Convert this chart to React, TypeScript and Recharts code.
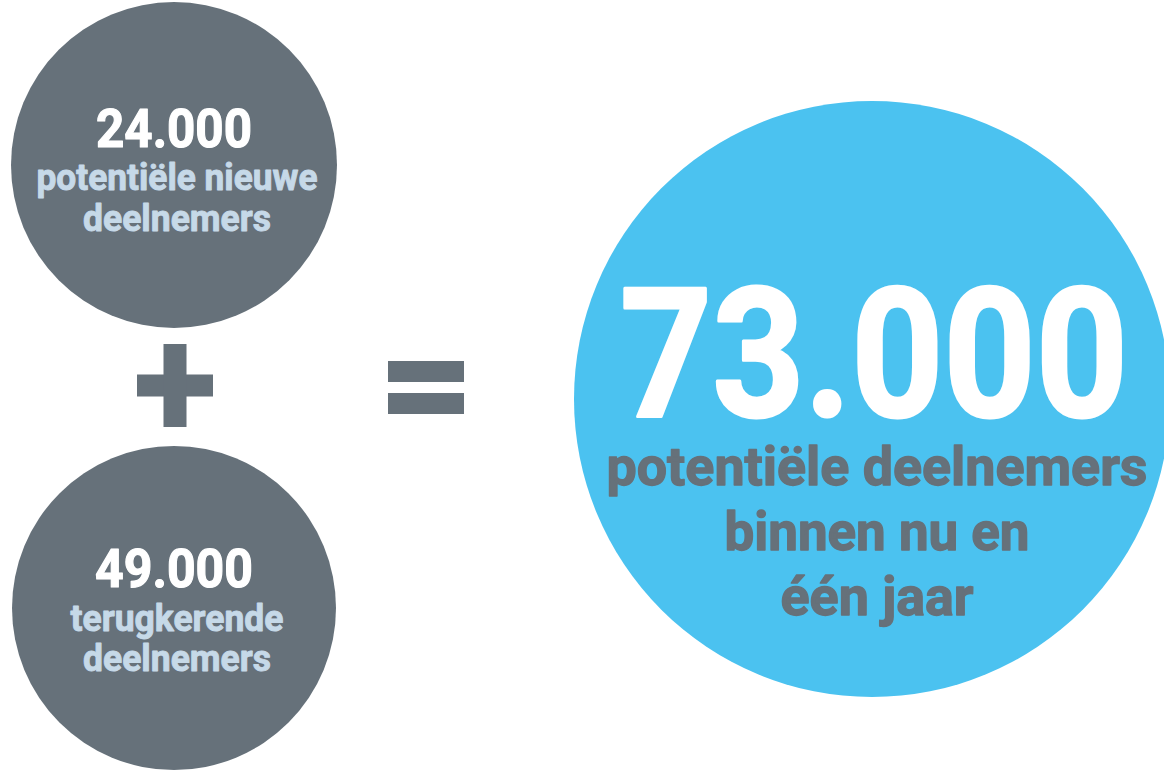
import React from 'react';
import { ScatterChart, Scatter, XAxis, YAxis } from 'recharts';

const W = 1164;
const H = 771;

// ---- data ----
const values = [24000, 49000, 73000];
const valueLabels = ['24.000', '49.000', '73.000'];
const captions = [
  ['potentiële nieuwe', 'deelnemers'],
  ['terugkerende', 'deelnemers'],
  ['potentiële deelnemers', 'binnen nu en', 'één jaar'],
];
const operators = ['+', '='];

// ---- layout / styles ----
const GRAY = '#66717a';
const LIGHT = '#c6d9e8';
const BLUE = '#4bc2f0';
const FONT = 'Roboto, "Open Sans", sans-serif';

const circleLayout = [
  { x: 174, y: 165, r: 163, fill: GRAY, valueColor: '#ffffff', capColor: LIGHT,
    valueSize: 54, valueDy: -18, valueWidth: 156, valueStroke: 1.2,
    capSize: 36, capDy: [25, 66], capWidths: [281, 188], capStroke: 0.9, dx: 0 },
  { x: 174, y: 608, r: 162, fill: GRAY, valueColor: '#ffffff', capColor: LIGHT,
    valueSize: 54, valueDy: -21, valueWidth: 158, valueStroke: 1.2,
    capSize: 36, capDy: [23, 63], capWidths: [213, 188], capStroke: 0.9, dx: 0 },
  { x: 872, y: 399, r: 298, fill: BLUE, valueColor: '#ffffff', capColor: GRAY,
    valueSize: 180, valueDy: 17, valueWidth: 508, valueStroke: 3,
    capSize: 54, capDy: [86, 151, 216], capWidths: [541, 305, 193], capStroke: 1.3, dx: 2 },
];

const operatorLayout = [
  { x: 175, y: 385.5 },
  { x: 426, y: 387.5 },
];

const circleData = values.map((v, i) => ({
  ...circleLayout[i],
  value: v,
  label: valueLabels[i],
  caption: captions[i],
}));

const operatorData = operators.map((op, i) => ({ ...operatorLayout[i], op }));

const CircleShape = (props: any) => {
  const { cx, cy, payload } = props;
  const p = payload;
  return (
    <g>
      <circle cx={cx} cy={cy} r={p.r} fill={p.fill} />
      <text
        x={cx + p.dx}
        y={cy + p.valueDy}
        textAnchor="middle"
        fontFamily={FONT}
        fontWeight={700}
        fontSize={p.valueSize}
        fill={p.valueColor}
        stroke={p.valueColor}
        strokeWidth={p.valueStroke}
        strokeLinejoin="round"
        textLength={p.valueWidth}
        lengthAdjust="spacingAndGlyphs"
      >
        {p.label}
      </text>
      {p.caption.map((line: string, i: number) => (
        <text
          key={i}
          x={cx + p.dx + 3}
          y={cy + p.capDy[i]}
          textAnchor="middle"
          fontFamily={FONT}
          fontWeight={700}
          fontSize={p.capSize}
          fill={p.capColor}
          stroke={p.capColor}
          strokeWidth={p.capStroke}
          strokeLinejoin="round"
          textLength={p.capWidths[i]}
          lengthAdjust="spacingAndGlyphs"
        >
          {line}
        </text>
      ))}
    </g>
  );
};

const OperatorShape = (props: any) => {
  const { cx, cy, payload } = props;
  if (payload.op === '+') {
    return (
      <g fill={GRAY}>
        <rect x={cx - 38} y={cy - 11} width={76} height={22} />
        <rect x={cx - 11.5} y={cy - 41.5} width={23} height={83} />
      </g>
    );
  }
  return (
    <g fill={GRAY}>
      <rect x={cx - 38} y={cy - 26.5} width={76} height={21} />
      <rect x={cx - 38} y={cy + 5.5} width={76} height={21} />
    </g>
  );
};

export default function App() {
  return (
    <div style={{ position: 'absolute', left: 0, top: 0, width: W, height: H, background: '#ffffff' }}>
      <ScatterChart width={W} height={H} margin={{ top: 0, right: 0, bottom: 0, left: 0 }}>
        <XAxis type="number" dataKey="x" domain={[0, W]} hide />
        <YAxis type="number" dataKey="y" domain={[0, H]} reversed hide />
        <Scatter data={circleData} shape={CircleShape} isAnimationActive={false} />
        <Scatter data={operatorData} shape={OperatorShape} isAnimationActive={false} />
      </ScatterChart>
    </div>
  );
}
